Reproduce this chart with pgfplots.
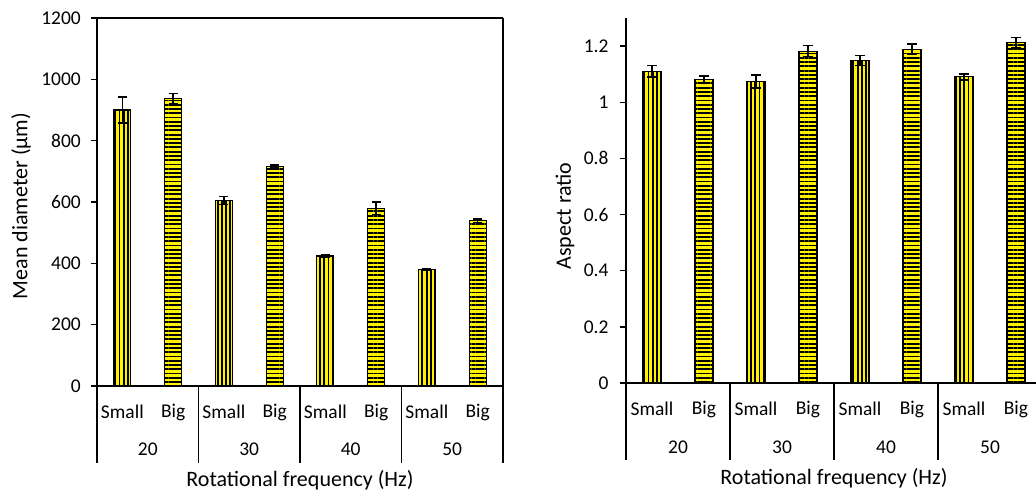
\documentclass[border=0pt]{standalone}
\usepackage{fontspec}
\setmainfont{Carlito}
\usepackage{pgfplots}
\pgfplotsset{compat=1.18}
\usetikzlibrary{patterns.meta}

\newcommand\tickfont{\fontsize{14.6}{17}\selectfont}
\newcommand\titlefont{\fontsize{16.5}{19}\selectfont}

\tikzset{mysep/.style={black, line width=1pt}}

\pgfplotsset{
  mystyle/.style={
    scale only axis,
    anchor=south west,
    xmin=0, xmax=8,
    ymin=0,
    axis x line*=bottom,
    axis y line*=left,
    axis line style={black, line width=1pt},
    xtick={0.5,1.5,...,7.5},
    xticklabels={Small,Big,Small,Big,Small,Big,Small,Big},
    xtick style={draw=none},
    ytick style={black, line width=1pt},
    tick align=outside,
    major tick length=4.5pt,
    tick label style={font=\tickfont},
    /pgf/number format/assume math mode=true,
    /pgf/number format/1000 sep={},
    scaled y ticks=false,
    xticklabel style={anchor=center, yshift=-15pt},
    label style={font=\titlefont},
    clip=false,
    ybar, bar shift=0pt,
    error bars/y dir=both, error bars/y explicit,
    error bars/error bar style={black, line width=1pt},
    error bars/error mark options={black, rotate=90, mark size=3.4pt, line width=1pt},
  },
  smallbar/.style={draw=black, line width=0.8pt, preaction={fill=yellow}, pattern={Lines[angle=90,distance=3.2pt,line width=1.4pt]}, pattern color=black},
  bigbar/.style={draw=black, line width=0.8pt, preaction={fill=yellow}, pattern={Lines[angle=0,distance=3.2pt,line width=1.4pt]}, pattern color=black},
}

\begin{document}
\begin{tikzpicture}
\useasboundingbox (0,0) rectangle (777pt,369.75pt);
\clip (0,0) rectangle (777pt,369.75pt);
% ---------------- left chart ----------------
\begin{axis}[mystyle,
  at={(72.75pt,80.25pt)}, width=304.5pt, height=276pt,
  ymax=1200, ytick={0,200,400,600,800,1000,1200},
  yticklabel style={xshift=-4.1pt},
  bar width=12.75pt,
  xlabel={Rotational frequency (Hz)},
  ylabel={Mean diameter (µm)},
  xlabel style={at={(rel axis cs:0.5,0)}, anchor=center, yshift=-70.5pt},
  ylabel style={at={([xshift=-57pt]rel axis cs:0,0.489)}, anchor=center},
]
\addplot[smallbar] coordinates {(0.5,900) +- (0,42) (2.5,605) +- (0,14) (4.5,424) +- (0,3) (6.5,381) +- (0,3)};
\addplot[bigbar] coordinates {(1.5,938) +- (0,16) (3.5,717) +- (0,4) (5.5,580) +- (0,20) (7.5,539) +- (0,6)};
\draw[mysep] (axis cs:0,0) -- ([yshift=-57.75pt]axis cs:0,0);
\draw[mysep] (axis cs:2,0) -- ([yshift=-57.75pt]axis cs:2,0);
\draw[mysep] (axis cs:4,0) -- ([yshift=-57.75pt]axis cs:4,0);
\draw[mysep] (axis cs:6,0) -- ([yshift=-57.75pt]axis cs:6,0);
\draw[black, line width=0.8pt] (rel axis cs:0,1) -- (rel axis cs:1,1);
\draw[mysep] (rel axis cs:1,1) -- ([yshift=-57.75pt]axis cs:8,0);
\node[font=\tickfont] at ([yshift=-47.25pt]axis cs:1,0) {20};
\node[font=\tickfont] at ([yshift=-47.25pt]axis cs:3,0) {30};
\node[font=\tickfont] at ([yshift=-47.25pt]axis cs:5,0) {40};
\node[font=\tickfont] at ([yshift=-47.25pt]axis cs:7,0) {50};
\end{axis}
% ---------------- right chart ----------------
\begin{axis}[mystyle,
  at={(469.5pt,82.5pt)}, width=312pt, height=273.75pt,
  ymax=1.3, ytick={0,0.2,0.4,0.6,0.8,1,1.2},
  yticklabel style={xshift=-5.1pt},
  bar width=13.5pt,
  xlabel={Rotational frequency (Hz)},
  ylabel={Aspect ratio},
  xlabel style={at={(rel axis cs:0.5,0)}, anchor=center, yshift=-71.25pt},
  ylabel style={at={([xshift=-45.75pt]rel axis cs:0,0.4575)}, anchor=center},
]
\addplot[smallbar] coordinates {(0.5,1.110) +- (0,0.020) (2.5,1.074) +- (0,0.023) (4.5,1.149) +- (0,0.017) (6.5,1.090) +- (0,0.011)};
\addplot[bigbar] coordinates {(1.5,1.080) +- (0,0.013) (3.5,1.182) +- (0,0.020) (5.5,1.188) +- (0,0.019) (7.5,1.212) +- (0,0.019)};
\draw[mysep] (axis cs:0,0) -- ([yshift=-57.75pt]axis cs:0,0);
\draw[mysep] (axis cs:2,0) -- ([yshift=-57.75pt]axis cs:2,0);
\draw[mysep] (axis cs:4,0) -- ([yshift=-57.75pt]axis cs:4,0);
\draw[mysep] (axis cs:6,0) -- ([yshift=-57.75pt]axis cs:6,0);
\draw[mysep] (axis cs:8,0) -- ([yshift=-57.75pt]axis cs:8,0);
\node[font=\tickfont] at ([yshift=-48pt]axis cs:1,0) {20};
\node[font=\tickfont] at ([yshift=-48pt]axis cs:3,0) {30};
\node[font=\tickfont] at ([yshift=-48pt]axis cs:5,0) {40};
\node[font=\tickfont] at ([yshift=-48pt]axis cs:7,0) {50};
\end{axis}
\end{tikzpicture}
\end{document}
